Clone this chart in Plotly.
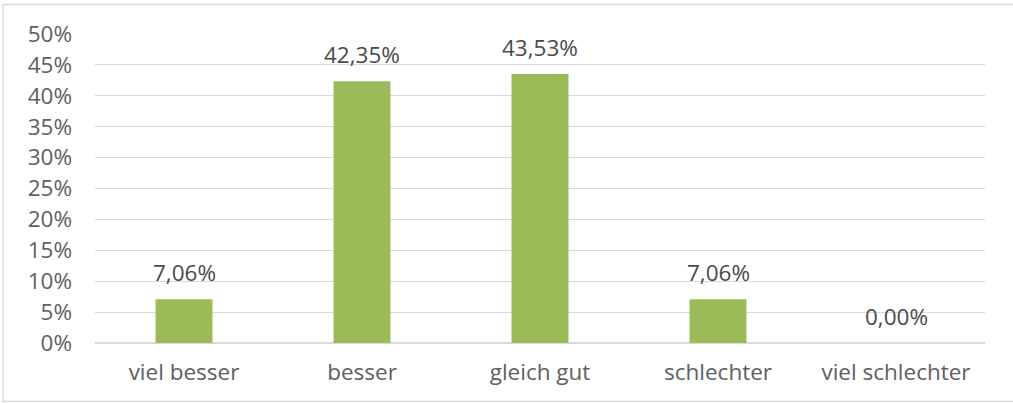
import plotly.graph_objects as go

# Antworten und Anteile (in %)
categories = ["viel besser", "besser", "gleich gut", "schlechter", "viel schlechter"]
values = [7.06, 42.35, 43.53, 7.06, 0.00]
labels = ["7,06%", "42,35%", "43,53%", "7,06%", "0,00%"]
tick_vals = [0, 5, 10, 15, 20, 25, 30, 35, 40, 45, 50]
tick_text = ["0%", "5%", "10%", "15%", "20%", "25%", "30%", "35%", "40%", "45%", "50%"]

fig = go.Figure()
fig.add_bar(x=categories, y=values,
            marker=dict(color="#9BBB59", line=dict(width=0)),
            width=0.32)

# Datenbeschriftungen ueber den Balken
for cat, val, lab in zip(categories, values, labels):
    fig.add_annotation(x=cat, y=val, text=lab, showarrow=False,
                       yanchor="bottom", yshift=9,
                       font=dict(size=22.5, color="#4a4a4a"))

fig.update_layout(
    width=1013, height=403,
    margin=dict(l=95, r=28, t=34, b=60),
    paper_bgcolor="white", plot_bgcolor="white",
    font=dict(family="Open Sans", size=22.5, color="#606060"),
    showlegend=False,
)
fig.update_yaxes(range=[0, 50], tickvals=tick_vals, ticktext=tick_text,
                 showgrid=True, gridcolor="#D9D9D9", gridwidth=1,
                 zeroline=True, zerolinecolor="#D9D9D9", ticks="",
                 ticklabelstandoff=22)
fig.update_xaxes(showgrid=False, ticks="", ticklabelstandoff=13)
fig.add_shape(type="rect", xref="paper", yref="paper",
              x0=-0.1034, x1=1.0337, y0=-0.1893, y1=1.0955,
              line=dict(color="#D9D9D9", width=1.5))

fig.write_html("out.html", config={"displayModeBar": False},
               post_script="document.body.style.margin='0';")
